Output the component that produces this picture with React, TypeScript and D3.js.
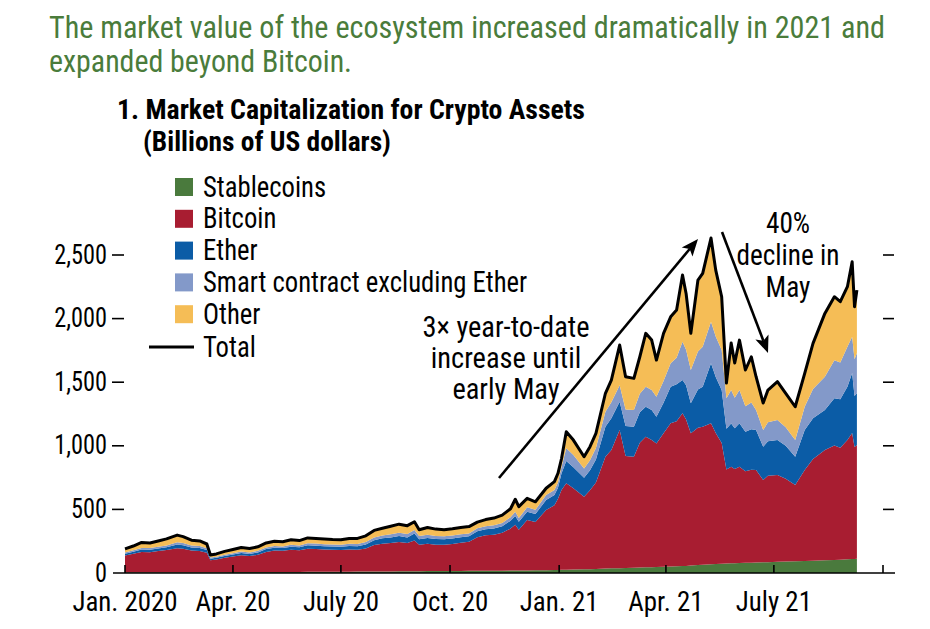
import * as d3 from 'd3';

// readings, billions of US dollars
const dates = [
  '2020-01-01', '2020-01-08', '2020-01-15', '2020-01-22', '2020-01-29', '2020-02-05', '2020-02-14', '2020-02-19',
  '2020-02-26', '2020-03-04', '2020-03-10', '2020-03-13', '2020-03-18', '2020-03-25', '2020-04-01', '2020-04-08',
  '2020-04-15', '2020-04-22', '2020-04-29', '2020-05-06', '2020-05-13', '2020-05-20', '2020-05-27', '2020-06-03',
  '2020-06-10', '2020-06-17', '2020-06-24', '2020-07-01', '2020-07-08', '2020-07-15', '2020-07-22', '2020-07-29',
  '2020-08-05', '2020-08-12', '2020-08-19', '2020-08-26', '2020-09-01', '2020-09-05', '2020-09-12', '2020-09-19',
  '2020-09-26', '2020-10-03', '2020-10-10', '2020-10-17', '2020-10-24', '2020-10-31', '2020-11-07', '2020-11-14',
  '2020-11-21', '2020-11-25', '2020-11-28', '2020-12-05', '2020-12-12', '2020-12-21', '2020-12-28', '2020-12-31',
  '2021-01-03', '2021-01-07', '2021-01-13', '2021-01-22', '2021-01-27', '2021-02-01', '2021-02-09', '2021-02-14',
  '2021-02-21', '2021-02-26', '2021-03-05', '2021-03-10', '2021-03-15', '2021-03-20', '2021-03-24', '2021-03-30',
  '2021-04-05', '2021-04-10', '2021-04-15', '2021-04-18', '2021-04-22', '2021-04-28', '2021-05-02', '2021-05-09',
  '2021-05-13', '2021-05-18', '2021-05-22', '2021-05-26', '2021-05-29', '2021-06-02', '2021-06-07', '2021-06-12',
  '2021-06-16', '2021-06-22', '2021-06-26', '2021-07-04', '2021-07-11', '2021-07-19', '2021-07-27', '2021-08-03',
  '2021-08-13', '2021-08-21', '2021-08-26', '2021-09-01', '2021-09-05', '2021-09-07', '2021-09-09',
];

const stablecoins = [
  5, 5, 5, 5, 5, 5, 5, 5, 5, 6, 6, 6, 6, 6, 7, 7,
  7, 7, 7, 8, 8, 8, 8, 9, 9, 9, 10, 10, 10, 11, 11, 11,
  12, 12, 13, 13, 14, 14, 15, 15, 16, 16, 16, 17, 17, 17, 18, 18,
  19, 19, 19, 20, 21, 22, 23, 24,
  25, 26, 27, 29, 30, 32, 36, 37, 38, 40, 42, 43, 45, 46, 47, 49,
  52, 53, 55, 56, 58, 62, 64, 68, 70, 72, 74, 76, 77, 78, 80, 81,
  82, 84, 85, 88, 90, 92, 94, 96, 100, 103, 105, 108, 110, 111, 112,
];

const bitcoin = [
  132, 146, 160, 159, 167, 175, 190, 185, 171, 166, 153, 94, 100, 113, 122, 132,
  126, 136, 158, 168, 166, 175, 170, 182, 179, 176, 172, 170, 174, 172, 182, 209,
  218, 224, 230, 222, 242, 208, 215, 208, 206, 212, 222, 228, 264, 280, 282, 298,
  330, 360, 322, 397, 380, 473, 510, 560,
  627, 680, 640, 570, 620, 680, 878, 930, 1086, 880, 872, 980, 1026, 1000, 972, 1050,
  1125, 1140, 1200, 1150, 1040, 1080, 1086, 1109, 1030, 950, 740, 760, 740, 757, 720, 730,
  728, 647, 680, 682, 650, 600, 716, 800, 867, 900, 880, 937, 990, 880, 894,
];

const ether = [
  15, 17, 19, 19, 20, 22, 29, 28, 25, 25, 22, 13, 13, 15, 16, 18,
  17, 19, 23, 23, 22, 24, 24, 27, 27, 26, 26, 26, 28, 28, 32, 38,
  43, 44, 47, 45, 55, 44, 46, 44, 43, 43, 43, 43, 47, 46, 50, 52,
  62, 70, 62, 65, 63, 79, 80, 86,
  132, 175, 165, 150, 158, 180, 236, 250, 222, 236, 236, 240, 236, 236, 209, 240,
  287, 290, 262, 270, 236, 300, 314, 471, 440, 416, 320, 340, 320, 342, 310, 320,
  314, 262, 270, 275, 260, 222, 314, 320, 314, 370, 380, 419, 472, 400, 409,
];

const smartContract = [
  10, 11, 13, 13, 14, 15, 18, 17, 16, 15, 13, 8, 9, 10, 11, 12,
  11, 12, 13, 14, 13, 15, 14, 16, 16, 16, 16, 16, 17, 17, 18, 21,
  22, 25, 27, 27, 28, 24, 25, 24, 23, 23, 23, 23, 23, 24, 25, 26,
  28, 32, 30, 34, 33, 39, 40, 42,
  51, 100, 95, 72, 78, 90, 118, 125, 130, 130, 131, 147, 157, 157, 158, 170,
  184, 210, 301, 280, 262, 300, 315, 327, 320, 315, 240, 262, 240, 261, 200, 210,
  157, 131, 150, 158, 145, 131, 183, 230, 262, 300, 290, 315, 285, 290, 315,
];

const other = [
  28, 33, 43, 40, 46, 51, 56, 51, 41, 40, 34, 21, 22, 26, 29, 31,
  31, 32, 35, 37, 37, 40, 39, 42, 41, 41, 40, 40, 43, 44, 49, 56,
  57, 63, 67, 65, 64, 50, 57, 54, 52, 54, 54, 54, 49, 53, 57, 61,
  66, 99, 89, 71, 63, 53, 65, 72,
  65, 129, 118, 93, 107, 116, 145, 175, 316, 257, 249, 290, 420, 392, 288, 375,
  366, 374, 524, 442, 288, 561, 577, 658, 521, 419, 119, 370, 274, 393, 286, 359,
  262, 212, 253, 301, 267, 262, 263, 359, 498, 499, 478, 472, 590, 412, 494,
];

const seriesNames = ['Stablecoins', 'Bitcoin', 'Ether', 'Smart contract excluding Ether', 'Other'];
const seriesValues = [stablecoins, bitcoin, ether, smartContract, other];
const seriesColors = ['#4a7a3d', '#a81d31', '#0b5ca6', '#8399c9', '#f5bd56'];

const yTicks = [0, 500, 1000, 1500, 2000, 2500];
const xTickDates = ['2020-01-01', '2020-04-01', '2020-07-01', '2020-10-01', '2021-01-01', '2021-04-01', '2021-07-01', '2021-10-01'];
const xTickLabels = ['Jan. 2020', 'Apr. 20', 'July 20', 'Oct. 20', 'Jan. 21', 'Apr. 21', 'July 21', ''];

const width = 930;
const height = 629;
const font = '"Liberation Sans Narrow", "Arial Narrow", "Roboto Condensed", Roboto, sans-serif';
const green = '#4a7c3b';

const parse = d3.utcParse('%Y-%m-%d');

type Row = { date: Date; [k: string]: number | Date };

const rows: Row[] = dates.map((d, i) => {
  const r: Row = { date: parse(d) as Date };
  seriesNames.forEach((n, j) => (r[n] = seriesValues[j][i]));
  return r;
});

const x = d3
  .scaleUtc()
  .domain([parse('2020-01-01') as Date, parse('2021-10-01') as Date])
  .range([125, 883]);
const y = d3.scaleLinear().domain([0, 2500]).range([573, 255]);

const stacked = d3.stack<Row>().keys(seriesNames).value((d, k) => d[k] as number)(rows);

const area = d3
  .area<d3.SeriesPoint<Row>>()
  .x((d) => x(d.data.date))
  .y0((d) => y(d[0]))
  .y1((d) => y(d[1]));

const totalLine = d3
  .line<Row>()
  .x((d) => x(d.date))
  .y((d) => y(seriesNames.reduce((s, n) => s + (d[n] as number), 0)));

// condensed-looking text: draw a bit taller, then squeeze horizontally around the anchor
function CText({
  x: tx,
  y: ty,
  size,
  squeeze = 0.9,
  anchor = 'start',
  children,
}: {
  x: number;
  y: number;
  size: number;
  squeeze?: number;
  anchor?: 'start' | 'middle' | 'end';
  children: string;
}) {
  return (
    <text transform={`translate(${tx},${ty}) scale(${squeeze},1)`} fontSize={size} textAnchor={anchor}>
      {children}
    </text>
  );
}

function Arrow({ x1, y1, x2, y2 }: { x1: number; y1: number; x2: number; y2: number }) {
  const a = Math.atan2(y2 - y1, x2 - x1);
  const len = 17;
  const w = 7;
  const bx = x2 - len * Math.cos(a);
  const by = y2 - len * Math.sin(a);
  const head = [
    [x2, y2],
    [bx + w * Math.sin(a), by - w * Math.cos(a)],
    [bx + 4 * Math.cos(a), by + 4 * Math.sin(a)],
    [bx - w * Math.sin(a), by + w * Math.cos(a)],
  ];
  return (
    <g>
      <line x1={x1} y1={y1} x2={bx + 4 * Math.cos(a)} y2={by + 4 * Math.sin(a)} stroke="#000" strokeWidth={2.6} />
      <polygon points={head.map((p) => p.join(',')).join(' ')} fill="#000" />
    </g>
  );
}

export default function App() {
  return (
    <svg
      width={width}
      height={height}
      style={{ position: 'absolute', left: 0, top: 0, background: '#fff' }}
      fontFamily={font}
    >
      <text x={49} y={38} fontSize={31} fill={green} textLength={836} lengthAdjust="spacingAndGlyphs">
        The market value of the ecosystem increased dramatically in 2021 and
      </text>
      <text x={49} y={72} fontSize={31} fill={green} textLength={303} lengthAdjust="spacingAndGlyphs">
        expanded beyond Bitcoin.
      </text>

      <text x={117} y={119} fontSize={27} fontWeight="bold" textLength={468} lengthAdjust="spacingAndGlyphs">
        1. Market Capitalization for Crypto Assets
      </text>
      <text x={143} y={151} fontSize={27} fontWeight="bold" textLength={248} lengthAdjust="spacingAndGlyphs">
        (Billions of US dollars)
      </text>

      {stacked.map((s, i) => (
        <path key={s.key} d={area(s) || ''} fill={seriesColors[i]} />
      ))}
      <path d={totalLine(rows) || ''} fill="none" stroke="#000" strokeWidth={3} strokeLinejoin="round" />

      {/* baseline and ticks */}
      <line x1={113} x2={895} y1={y(0)} y2={y(0)} stroke="#000" strokeWidth={1.6} />
      {xTickDates.map((d) => (
        <line key={d} x1={x(parse(d) as Date)} x2={x(parse(d) as Date)} y1={y(0)} y2={y(0) - 8} stroke="#000" strokeWidth={1.6} />
      ))}
      {xTickDates.map((d, i) => (
        <CText key={d} x={x(parse(d) as Date)} y={611} size={28} squeeze={0.96} anchor="middle">
          {xTickLabels[i]}
        </CText>
      ))}
      {yTicks.map((t) => (
        <g key={t}>
          {t > 0 && <line x1={112} x2={124} y1={y(t)} y2={y(t)} stroke="#000" strokeWidth={1.6} />}
          {t > 0 && <line x1={883} x2={894} y1={y(t)} y2={y(t)} stroke="#000" strokeWidth={1.6} />}
          <CText x={107} y={y(t) + 8.5} size={27} squeeze={0.9} anchor="end">
            {d3.format(',')(t)}
          </CText>
        </g>
      ))}

      {/* legend */}
      {seriesNames.map((n, i) => (
        <g key={n}>
          <rect x={175} y={178 + i * 31.8} width={18} height={18} fill={seriesColors[i]} />
          <CText x={203} y={196.5 + i * 31.8} size={29} squeeze={0.92}>
            {n}
          </CText>
        </g>
      ))}
      <line x1={149} x2={194} y1={347} y2={347} stroke="#000" strokeWidth={3} />
      <CText x={203} y={357} size={29} squeeze={0.92}>
        Total
      </CText>

      {/* annotations */}
      <CText x={506} y={337} size={29} squeeze={0.98} anchor="middle">3× year-to-date</CText>
      <CText x={506} y={368} size={29} squeeze={0.98} anchor="middle">increase until</CText>
      <CText x={506} y={399} size={29} squeeze={0.98} anchor="middle">early May</CText>
      <CText x={788} y={233} size={29} squeeze={0.94} anchor="middle">40%</CText>
      <CText x={788} y={265} size={29} squeeze={0.94} anchor="middle">decline in</CText>
      <CText x={788} y={297} size={29} squeeze={0.94} anchor="middle">May</CText>
      <Arrow x1={499} y1={478} x2={698} y2={239} />
      <Arrow x1={722} y1={232} x2={768} y2={353} />
    </svg>
  );
}
